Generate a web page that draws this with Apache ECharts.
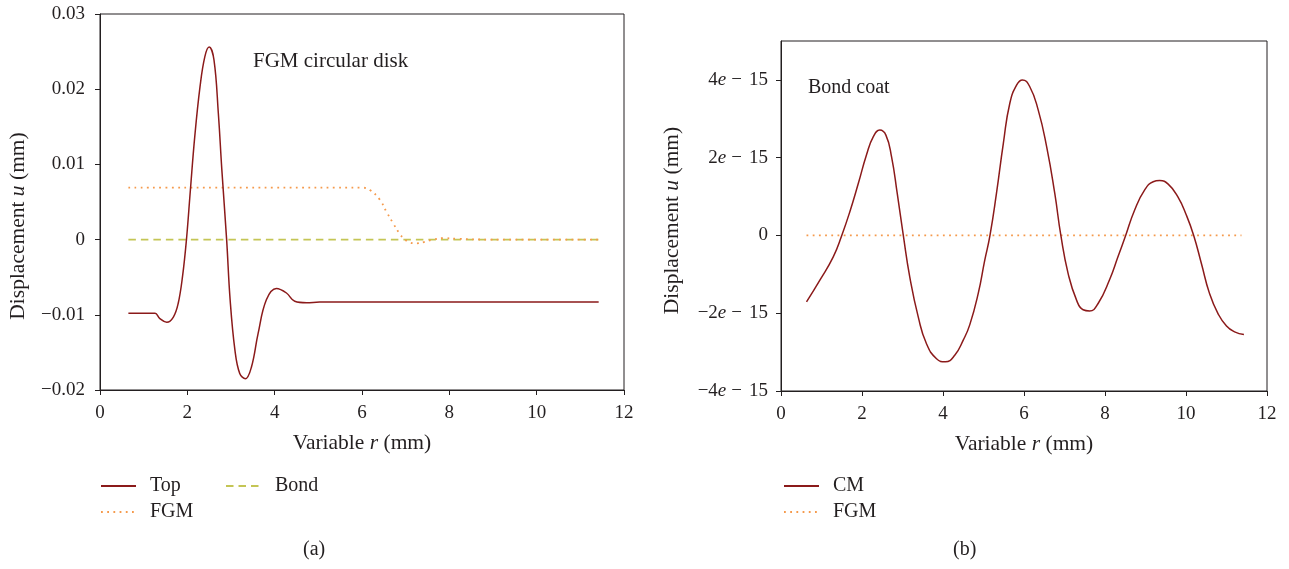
<!DOCTYPE html>
<html>
<head>
<meta charset="utf-8">
<script src="https://cdn.jsdelivr.net/npm/echarts@6/dist/echarts.min.js"></script>
<style>
html,body{margin:0;padding:0;background:#fff;}
#chart{width:1289px;height:569px;}
</style>
</head>
<body>
<div id="chart"></div>
<script>
// ---------- data ----------
// (a) FGM circular disk
const topR   = [0.65,1.0,1.26,1.37,1.53,1.68,1.79,1.89,1.98,2.07,2.17,2.29,2.40,2.50,2.61,2.71,2.79,2.90,2.98,3.09,3.20,3.33,3.47,3.62,3.81,4.04,4.27,4.46,4.73,5.03,6.0,8.0,10.0,11.42];
const topU   = [-0.0098,-0.0098,-0.0098,-0.0105,-0.0110,-0.0103,-0.0085,-0.0049,0.0000,0.0066,0.0137,0.0203,0.0243,0.0256,0.0239,0.0168,0.0093,0.0000,-0.0080,-0.0147,-0.0178,-0.0185,-0.0169,-0.0125,-0.0080,-0.0065,-0.0071,-0.0082,-0.0084,-0.0083,-0.0083,-0.0083,-0.0083,-0.0083];
const fgmAR  = [0.65,2.0,4.0,6.02,6.18,6.41,6.56,6.71,6.86,6.98,7.10,7.25,7.44,7.63,7.86,8.2,9.0,11.42];
const fgmAU  = [0.0069,0.0069,0.0069,0.0069,0.0066,0.0053,0.0037,0.0022,0.0008,0.0000,-0.0004,-0.0005,-0.0003,0.0000,0.0002,0.0001,0.0000,0.0000];
const bondR  = [0.65,11.42];
const bondU  = [0,0];
// (b) Bond coat
const cmR    = [0.63,0.96,1.29,1.50,1.70,1.91,2.11,2.28,2.44,2.59,2.73,2.87,3.02,3.18,3.39,3.59,3.84,4.06,4.29,4.50,4.66,4.87,5.03,5.16,5.32,5.49,5.65,5.82,5.96,6.14,6.35,6.56,6.76,6.91,7.09,7.30,7.46,7.62,7.83,8.12,8.32,8.51,8.73,8.98,9.19,9.35,9.56,9.80,10.01,10.19,10.38,10.58,10.79,11.00,11.20,11.43];
const cmU    = [-1.71e-15,-1.15e-15,-0.55e-15,0,0.61e-15,1.34e-15,2.07e-15,2.54e-15,2.71e-15,2.58e-15,2.02e-15,1.08e-15,0,-1.07e-15,-2.10e-15,-2.78e-15,-3.17e-15,-3.25e-15,-3.08e-15,-2.69e-15,-2.30e-15,-1.49e-15,-0.64e-15,0,1.08e-15,2.37e-15,3.40e-15,3.87e-15,4.00e-15,3.83e-15,3.23e-15,2.28e-15,1.08e-15,0,-0.98e-15,-1.67e-15,-1.91e-15,-1.94e-15,-1.75e-15,-1.12e-15,-0.55e-15,0,0.65e-15,1.17e-15,1.38e-15,1.41e-15,1.32e-15,0.99e-15,0.52e-15,0,-0.72e-15,-1.49e-15,-2.01e-15,-2.33e-15,-2.48e-15,-2.55e-15];
const fgmBR  = [0.63,11.37];
const fgmBU  = [0,0];
// tick values
const xTicks  = [0,2,4,6,8,10,12];
const yTicksA = [-0.02,-0.01,0,0.01,0.02,0.03];
const yTicksB = [-4e-15,-2e-15,0,2e-15,4e-15];

// ---------- styling ----------
const FONT = 'Liberation Serif';
const INK = '#231f20';
const RED = '#8b1a1a';
const ORANGE = '#f59a4c';
const OLIVE = '#c4c555';
const zip = (a,b) => a.map((v,i)=>[v,b[i]]);
const richName = {
  n:{fontFamily:FONT,fontSize:21.5,color:INK},
  i:{fontFamily:FONT,fontSize:21.5,color:INK,fontStyle:'italic'}
};

function xAxis(gi){
  return {
    type:'value', gridIndex:gi, min:0, max:12, interval:2,
    axisLine:{show:true,onZero:false,lineStyle:{color:INK,width:1}},
    axisTick:{show:true,length:5,inside:false,lineStyle:{color:INK}},
    axisLabel:{fontFamily:FONT,fontSize:19,color:INK,margin:14},
    splitLine:{show:false},
    name:'{n|Variable }{i|r}{n| (mm)}', nameLocation:'middle', nameGap:42,
    nameTextStyle:{rich:richName}
  };
}
function legend(name,left,top){
  return {data:[name], left:left, top:top, padding:0, itemWidth:35, itemHeight:14,
    itemStyle:{opacity:0},
    textStyle:{fontFamily:FONT,fontSize:20,color:INK,padding:[0,0,0,9]}};
}

const chart = echarts.init(document.getElementById('chart'));
const option = {
  animation:false,
  backgroundColor:'#fff',
  grid:[
    {left:100,top:14,width:524,height:376,show:true,borderColor:INK,borderWidth:1,backgroundColor:'transparent'},
    {left:781,top:41,width:486,height:350,show:true,borderColor:INK,borderWidth:1,backgroundColor:'transparent'}
  ],
  xAxis:[xAxis(0),xAxis(1)],
  yAxis:[
    {
      type:'value', gridIndex:0, min:-0.02, max:0.03, interval:0.01,
      axisLine:{show:true,onZero:false,lineStyle:{color:INK,width:1}},
      axisTick:{show:true,length:5,lineStyle:{color:INK}},
      axisLabel:{fontFamily:FONT,fontSize:19,color:INK,margin:15,
        formatter:v=>{ const r=Math.round(v*100)/100; if(r===0) return '0'; return (r<0?'\u2212':'')+Math.abs(r).toFixed(2);} },
      splitLine:{show:false},
      name:'{n|Displacement }{i|u}{n| (mm)}', nameLocation:'middle', nameGap:71,
      nameTextStyle:{rich:richName,padding:[0,48,0,0]}
    },
    {
      type:'value', gridIndex:1, min:-4e-15, max:5e-15, interval:2e-15,
      axisLine:{show:true,onZero:false,lineStyle:{color:INK,width:1}},
      axisTick:{show:true,length:5,lineStyle:{color:INK},customValues:yTicksB},
      axisLabel:{fontFamily:FONT,fontSize:19,color:INK,margin:13,customValues:yTicksB,
        formatter:v=>{ const n=Math.round(v/1e-15); if(n===0) return '0'; return '{n|'+(n<0?'\u2212':'')+Math.abs(n)+'}{i|e}{m|\u2212}{n|15}'; },
        rich:{n:{fontFamily:FONT,fontSize:19,color:INK},
              i:{fontFamily:FONT,fontSize:19,color:INK,fontStyle:'italic'},
              m:{fontFamily:FONT,fontSize:19,color:INK,padding:[0,7,0,5]}}
      },
      splitLine:{show:false},
      name:'{n|Displacement }{i|u}{n| (mm)}', nameLocation:'middle', nameGap:98,
      nameTextStyle:{rich:richName,padding:[0,9,0,0]}
    }
  ],
  legend:[
    legend('Top',100,476),
    legend('Bond',225,476),
    legend('FGM',100,502),
    legend('CM',783,476),
    legend('FGM',783,502)
  ],
  graphic:[
    {type:'text',left:253,top:51,style:{text:'FGM circular disk',font:'21px "Liberation Serif"',fill:INK}},
    {type:'text',left:808,top:78,style:{text:'Bond coat',font:'20px "Liberation Serif"',fill:INK}},
    {type:'text',left:303,top:540,style:{text:'(a)',font:'20px "Liberation Serif"',fill:INK}},
    {type:'text',left:953,top:540,style:{text:'(b)',font:'20px "Liberation Serif"',fill:INK}}
  ],
  series:[
    {name:'Bond',type:'line',xAxisIndex:0,yAxisIndex:0,data:zip(bondR,bondU),symbol:'none',
      lineStyle:{color:OLIVE,width:1.6,type:[7.5,5]},itemStyle:{color:OLIVE}},
    {name:'FGM',type:'line',xAxisIndex:0,yAxisIndex:0,data:zip(fgmAR,fgmAU),symbol:'none',smooth:0.4,
      lineStyle:{color:ORANGE,width:1.8,type:[1.8,4.4]},itemStyle:{color:ORANGE}},
    {name:'Top',type:'line',xAxisIndex:0,yAxisIndex:0,data:zip(topR,topU),symbol:'none',smooth:0.4,
      lineStyle:{color:RED,width:1.5},itemStyle:{color:RED}},
    {name:'FGM',type:'line',xAxisIndex:1,yAxisIndex:1,data:zip(fgmBR,fgmBU),symbol:'none',
      lineStyle:{color:ORANGE,width:1.8,type:[1.8,4.4]},itemStyle:{color:ORANGE}},
    {name:'CM',type:'line',xAxisIndex:1,yAxisIndex:1,data:zip(cmR,cmU),symbol:'none',smooth:0.5,
      lineStyle:{color:RED,width:1.5},itemStyle:{color:RED}}
  ]
};
chart.setOption(option);
</script>
</body>
</html>
